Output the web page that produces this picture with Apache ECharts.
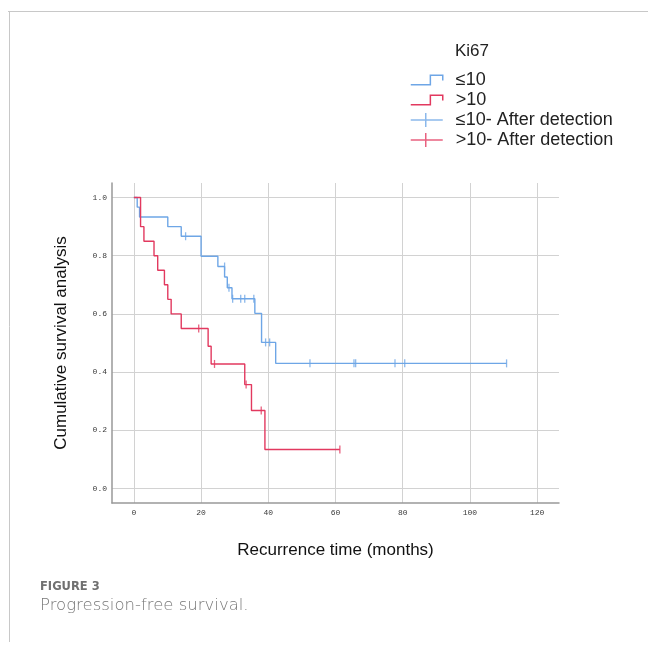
<!DOCTYPE html>
<html>
<head>
<meta charset="utf-8">
<script src="https://cdn.jsdelivr.net/npm/echarts@6/dist/echarts.min.js"></script>
<style>
  html, body { margin: 0; padding: 0; background: #fff; }
  #chart { width: 648px; height: 645px; }
</style>
</head>
<body>
<div id="chart"></div>
<script>
const xTicks = [0, 20, 40, 60, 80, 100, 120]
const yTicks = [0, 0.2, 0.4, 0.6, 0.8, 1.0]

// Kaplan-Meier steps [month, survival]
const lowSteps = [
  [0, 1.0], [1.0, 0.967], [1.7, 0.933], [10.1, 0.9], [14.1, 0.867], [20, 0.798],
  [25, 0.763], [27, 0.727], [27.8, 0.69], [29.2, 0.652], [36, 0.602], [38, 0.502],
  [42.2, 0.43], [110.9, 0.43]
]
const lowCensored = [
  [15.4, 0.867], [27, 0.763], [28.3, 0.69], [29.4, 0.652], [31.8, 0.652], [33, 0.652],
  [35.7, 0.652], [39.2, 0.502], [40.4, 0.502], [52.4, 0.43], [65.5, 0.43], [66, 0.43],
  [77.7, 0.43], [80.6, 0.43], [110.9, 0.43]
]
const highSteps = [
  [0, 1.0], [2, 0.9], [3, 0.85], [6, 0.8], [7.1, 0.75], [9.1, 0.7], [10.1, 0.65],
  [11.1, 0.6], [14.1, 0.55], [22.1, 0.489], [23, 0.428], [33, 0.357], [35, 0.268],
  [39, 0.134], [61.3, 0.134]
]
const highCensored = [
  [19.3, 0.55], [24, 0.428], [33.4, 0.357], [37.9, 0.268], [61.3, 0.134]
]

const blue = '#6ea6e6'
const red = '#e2395f'
const stepIcon = 'path://M0,9 L19,9 L19,0 L31,0 L31,5'
const plusIcon = 'path://M0,7 L32,7 M15,0 L15,14'

const chart = echarts.init(document.getElementById('chart'))

const tickFont = { fontFamily: 'Liberation Mono', fontSize: 8, color: '#3a3a3a' }

function legendItem(name, icon, color) {
  return { name, icon, itemStyle: { color: 'rgba(0,0,0,0)', borderColor: color, borderWidth: 1.5 } }
}

chart.setOption({
  animation: false,
  backgroundColor: '#fff',
  title: {
    text: 'Ki67',
    left: 455,
    top: 43,
    padding: 0,
    textStyle: { fontFamily: 'Liberation Sans', fontSize: 17, fontWeight: 'normal', color: '#222' }
  },
  legend: {
    orient: 'vertical',
    left: 410,
    top: 71,
    padding: 0,
    itemWidth: 32,
    itemHeight: 14,
    itemGap: 2,
    selectedMode: false,
    textStyle: {
      fontFamily: 'Liberation Sans', fontSize: 18, color: '#222',
      lineHeight: 18, padding: [0, 0, 0, 8]
    },
    data: [
      legendItem('≤10', stepIcon, blue),
      legendItem('>10', stepIcon, red),
      legendItem('≤10- After detection', plusIcon, blue),
      legendItem('>10- After detection', plusIcon, red)
    ]
  },
  grid: { left: 112, right: 89, top: 183, bottom: 142 },
  xAxis: {
    type: 'value',
    min: -6.5,
    max: 126.5,
    name: 'Recurrence time (months)',
    nameLocation: 'middle',
    nameGap: 39,
    nameTextStyle: { fontFamily: 'Liberation Sans', fontSize: 17, color: '#111' },
    axisLine: { show: true, onZero: false, lineStyle: { color: '#999', width: 1.5 } },
    axisTick: { show: false, customValues: xTicks },
    axisLabel: { customValues: xTicks, margin: 6, ...tickFont },
    splitLine: { show: true, lineStyle: { color: '#d2d2d2', width: 1 } }
  },
  yAxis: {
    type: 'value',
    min: -0.05,
    max: 1.05,
    name: 'Cumulative survival analysis',
    nameLocation: 'middle',
    nameGap: 42,
    nameTextStyle: { fontFamily: 'Liberation Sans', fontSize: 17, color: '#111' },
    axisLine: { show: true, onZero: false, lineStyle: { color: '#999', width: 1.5 } },
    axisTick: { show: false, customValues: yTicks },
    axisLabel: { customValues: yTicks, margin: 5, formatter: v => v.toFixed(1), ...tickFont },
    splitLine: { show: true, lineStyle: { color: '#d2d2d2', width: 1 } }
  },
  series: [
    {
      name: '≤10', type: 'line', step: 'end', data: lowSteps, showSymbol: false,
      color: blue, lineStyle: { color: blue, width: 1.4 }
    },
    {
      name: '≤10- After detection', type: 'scatter', data: lowCensored,
      symbol: 'rect', symbolSize: [1.3, 8], itemStyle: { color: blue }
    },
    {
      name: '>10', type: 'line', step: 'end', data: highSteps, showSymbol: false,
      color: red, lineStyle: { color: red, width: 1.4 }
    },
    {
      name: '>10- After detection', type: 'scatter', data: highCensored,
      symbol: 'rect', symbolSize: [1.3, 8], itemStyle: { color: red }
    }
  ],
  graphic: [
    { type: 'line', shape: { x1: 8, y1: 11.5, x2: 648, y2: 11.5 }, style: { stroke: '#c8c8c8', lineWidth: 1 } },
    { type: 'line', shape: { x1: 9.5, y1: 11, x2: 9.5, y2: 642 }, style: { stroke: '#c8c8c8', lineWidth: 1 } },
    {
      type: 'text', left: 40, top: 581,
      style: { text: 'FIGURE 3', font: 'bold 11.5px "DejaVu Sans"', fill: '#707070' }
    },
    {
      type: 'text', left: 40, top: 597,
      style: { text: 'Progression-free survival.', font: '200 16.5px "DejaVu Sans"', fill: '#777' }
    }
  ]
})
</script>
</body>
</html>
